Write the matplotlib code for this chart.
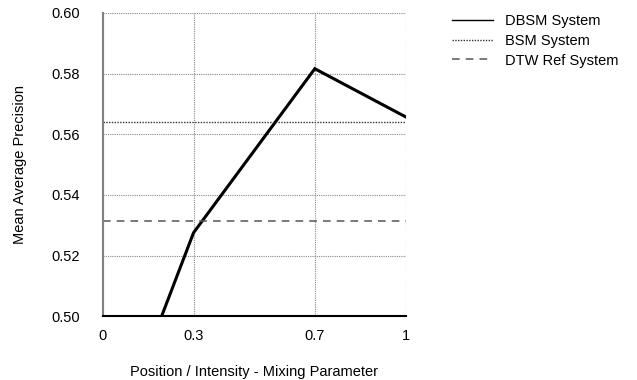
import matplotlib.pyplot as plt

plt.rcParams["font.family"] = ["Liberation Sans", "DejaVu Sans"]

# data
mix = [0.0, 0.3, 0.7, 1.0]
dbsm = [0.449, 0.5275, 0.5816, 0.5657]
bsm_level = 0.5640
dtw_level = 0.5313

x_ticks = [0, 0.3, 0.7, 1]
x_labels = ["0", "0.3", "0.7", "1"]
y_ticks = [0.50, 0.52, 0.54, 0.56, 0.58, 0.60]

fs = 10.5

fig = plt.figure(figsize=(6.37, 3.80), dpi=100)
ax = fig.add_axes([0.161, 0.168, 0.476, 0.798])

ax.plot(mix, dbsm, color="black", linewidth=2.2, solid_joinstyle="miter",
        label="DBSM System")
ax.axhline(bsm_level, color="#333333", linestyle=(0, (1, 1)), linewidth=1.0,
           label="BSM System")
ax.axhline(dtw_level, color="#555555", linestyle=(0, (5, 4)), linewidth=1.1,
           label="DTW Ref System")

ax.set_xlim(0, 1)
ax.set_ylim(0.50, 0.60)
ax.set_xticks(x_ticks)
ax.set_xticklabels(x_labels)
ax.set_yticks(y_ticks)
ax.set_yticklabels([f"{v:.2f}" for v in y_ticks])
ax.tick_params(axis="both", length=0, labelsize=fs)
ax.tick_params(axis="y", pad=16)
ax.tick_params(axis="x", pad=9)

ax.grid(True, color="#888888", linestyle=(0, (1, 1)), linewidth=0.8)
ax.set_axisbelow(True)

for side in ("top", "right"):
    ax.spines[side].set_visible(False)
ax.spines["left"].set_color("#808080")
ax.spines["left"].set_linewidth(1.5)
ax.spines["bottom"].set_color("black")
ax.spines["bottom"].set_linewidth(1.5)

ax.set_xlabel("Position / Intensity - Mixing Parameter", fontsize=fs, labelpad=16)
ax.set_ylabel("Mean Average Precision", fontsize=fs, labelpad=18)

handles, labels = ax.get_legend_handles_labels()
leg = fig.legend(handles, labels, loc="upper left", bbox_to_anchor=(0.689, 0.998),
                 frameon=False, fontsize=fs, handlelength=2.8, handletextpad=0.8,
                 labelspacing=0.4)
leg.get_lines()[0].set_linewidth(1.0)

fig.savefig("out.png", dpi=100)
